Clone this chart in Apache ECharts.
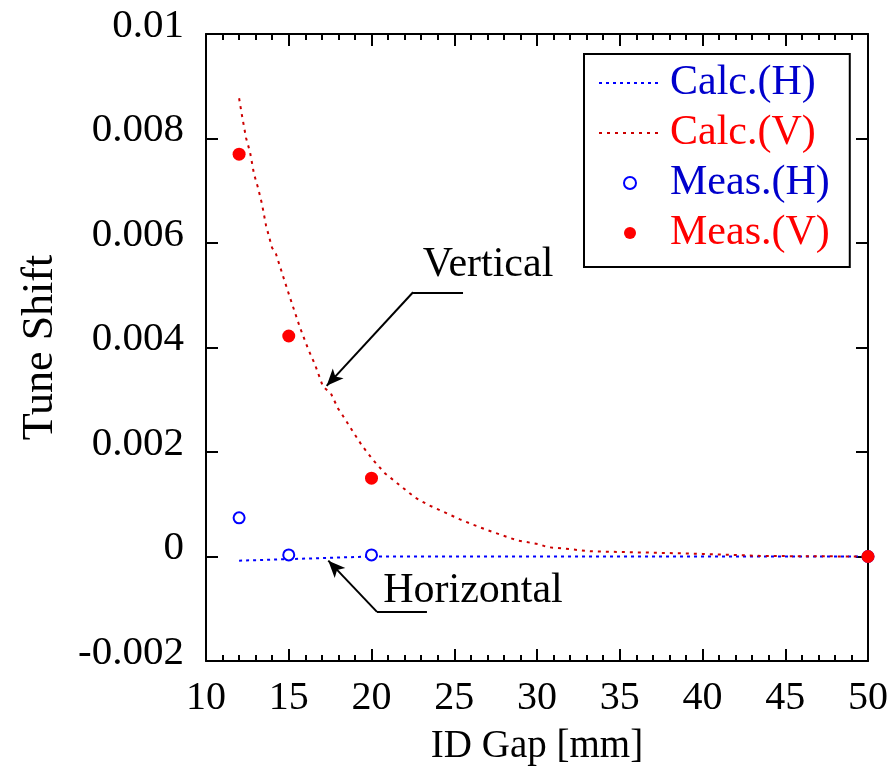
<!DOCTYPE html>
<html>
<head>
<meta charset="utf-8">
<script src="https://cdn.jsdelivr.net/npm/echarts@6/dist/echarts.min.js"></script>
<style>
html,body{margin:0;padding:0;background:#fff;}
#c{width:895px;height:771px;}
</style>
</head>
<body>
<div id="c"></div>
<script>
// ---- data ----
var calcVX = [12.0, 12.18, 12.42, 12.66, 12.9, 13.14, 13.38, 13.63, 13.99, 14.23, 14.65, 15.08, 15.68, 16.16, 16.59, 17.07, 17.55, 17.98, 18.22, 18.88, 19.43, 20.09, 20.82, 21.72, 22.63, 23.41, 24.32, 25.35, 26.13, 27.04, 27.95, 28.79, 30.18, 30.6, 32.0, 33.2, 35.0, 37.85, 40.0, 43.65, 46.0, 50.0];
var calcVY = [0.00877, 0.00843, 0.00801, 0.00774, 0.00732, 0.00706, 0.00675, 0.00633, 0.00591, 0.00579, 0.00537, 0.00495, 0.00438, 0.00398, 0.00367, 0.00325, 0.00312, 0.00283, 0.00272, 0.00239, 0.00212, 0.00185, 0.00159, 0.00136, 0.00113, 0.00099, 0.00086, 0.00071, 0.00061, 0.0005, 0.0004, 0.00031, 0.00023, 0.00018, 0.00014, 0.0001, 0.000086, 0.000067, 0.00005, 0.00001, 0.000005, 0.0];
var calcHX = [12, 13, 14, 15, 16, 17, 18, 19, 20, 25, 30, 35, 40, 45, 50];
var calcHY = [-0.00008, -0.00007, -0.00006, -0.00005, -0.00004, -0.00003, -0.00002, -0.00001, 0, 0, 0, 0, 0, 0, 0];
var measHX = [12, 15, 20, 50];
var measHY = [0.00074, 0.00003, 0.00003, 0.0];
var measVX = [12, 15, 20, 50];
var measVY = [0.0077, 0.00422, 0.0015, 0.0];
var seriesNames = ['Calc.(H)', 'Calc.(V)', 'Meas.(H)', 'Meas.(V)'];
var xMin = 10, xMax = 50, xStep = 5;
var yMin = -0.002, yMax = 0.01, yStep = 0.002;
var xAxisTitle = 'ID Gap [mm]';
var yAxisTitle = 'Tune Shift';
// annotation anchors (data coordinates)
var vertArrow = [[25.53, 0.005057], [22.51, 0.005057], [17.29, 0.003266]];
var horizArrow = [[23.35, -0.00106], [20.33, -0.00106], [17.39, -0.00008]];
var vertText = {text: 'Vertical', at: [27.04, 0.00557]};
var horizText = {text: 'Horizontal', at: [26.13, -0.00066]};

function zip(a, b) { return a.map(function (v, i) { return [v, b[i]]; }); }

var FONT = 'Liberation Serif';
var BLUE = '#0000ff', BLUE_T = '#0000cc', RED = '#ff0000', RED_L = '#cc0000';

var chart = echarts.init(document.getElementById('c'), null, {renderer: 'canvas'});

function arrowLines(pts) {
  return [
    [{coord: pts[0], symbol: 'none'}, {coord: pts[1], symbol: 'none'}],
    [{coord: pts[1], symbol: 'none'}, {coord: pts[2], symbol: 'arrow', symbolSize: [11, 17]}]
  ];
}

var axisLine = {show: true, onZero: false, lineStyle: {color: '#000', width: 2}};

var option = {
  backgroundColor: '#fff',
  animation: false,
  grid: {left: 206, right: 27, top: 34, bottom: 110},
  legend: {
    orient: 'vertical',
    left: 584, top: 54,
    padding: [4, 20, 9, 14],
    borderColor: '#000', borderWidth: 2,
    itemWidth: 62, itemHeight: 12, itemGap: 0,
    selectedMode: false,
    textStyle: {fontFamily: FONT, fontSize: 42, lineHeight: 50, padding: [0, 0, 0, 4]},
    data: [
      {name: seriesNames[0], textStyle: {color: BLUE_T}, itemStyle: {opacity: 0}},
      {name: seriesNames[1], textStyle: {color: RED}, itemStyle: {opacity: 0}},
      {name: seriesNames[2], textStyle: {color: BLUE_T}},
      {name: seriesNames[3], textStyle: {color: RED}}
    ]
  },
  xAxis: [{
    type: 'value', min: xMin, max: xMax, interval: xStep,
    name: xAxisTitle, nameLocation: 'middle', nameGap: 66,
    nameTextStyle: {fontFamily: FONT, fontSize: 39, color: '#000'},
    axisLine: axisLine,
    axisTick: {show: true, inside: true, length: 12, lineStyle: {color: '#000', width: 2}},
    minorTick: {show: true, splitNumber: 5, length: 6, lineStyle: {color: '#000', width: 2}},
    axisLabel: {fontFamily: FONT, fontSize: 40, color: '#000', margin: 17},
    splitLine: {show: false}
  }, {
    type: 'value', position: 'top', min: xMin, max: xMax, interval: xStep,
    axisLine: axisLine,
    axisTick: {show: true, inside: true, length: 12, lineStyle: {color: '#000', width: 2}},
    minorTick: {show: true, splitNumber: 5, length: 6, lineStyle: {color: '#000', width: 2}},
    axisLabel: {show: false},
    splitLine: {show: false}
  }],
  yAxis: [{
    type: 'value', min: yMin, max: yMax, interval: yStep,
    name: yAxisTitle, nameLocation: 'middle', nameGap: 144, nameRotate: 90,
    nameTextStyle: {fontFamily: FONT, fontSize: 44, color: '#000'},
    axisLine: axisLine,
    axisTick: {show: true, inside: true, length: 12, lineStyle: {color: '#000', width: 2}},
    axisLabel: {fontFamily: FONT, fontSize: 41, color: '#000', margin: 22,
      verticalAlign: 'bottom', lineHeight: 16,
      formatter: function (v) { return String(+v.toFixed(4)); }},
    splitLine: {show: false}
  }, {
    type: 'value', position: 'right', min: yMin, max: yMax, interval: yStep,
    axisLine: axisLine,
    axisTick: {show: true, inside: true, length: 12, lineStyle: {color: '#000', width: 2}},
    axisLabel: {show: false},
    splitLine: {show: false}
  }],
  series: [
    {
      name: seriesNames[0], type: 'line', data: zip(calcHX, calcHY),
      symbol: 'none', smooth: false, z: 3,
      itemStyle: {color: BLUE},
      lineStyle: {color: BLUE, width: 2, type: [3, 4]},
      markLine: {
        silent: true, animation: false,
        lineStyle: {color: '#000', width: 2, type: 'solid'},
        label: {show: false},
        data: arrowLines(horizArrow)
      }
    },
    {
      name: seriesNames[1], type: 'line', data: zip(calcVX, calcVY),
      symbol: 'none', smooth: false, z: 3,
      itemStyle: {color: RED_L},
      lineStyle: {color: RED_L, width: 2, type: [3, 5]},
      markLine: {
        silent: true, animation: false,
        lineStyle: {color: '#000', width: 2, type: 'solid'},
        label: {show: false},
        data: arrowLines(vertArrow)
      }
    },
    {
      name: seriesNames[2], type: 'scatter', data: zip(measHX, measHY),
      symbol: 'circle', symbolSize: 11, z: 4,
      itemStyle: {color: '#fff', borderColor: BLUE, borderWidth: 2, opacity: 1}
    },
    {
      name: seriesNames[3], type: 'scatter', data: zip(measVX, measVY),
      symbol: 'circle', symbolSize: 13, z: 5,
      itemStyle: {color: RED, opacity: 1}
    }
  ]
};
chart.setOption(option);

function placeTexts() {
  var items = [vertText, horizText].map(function (t) {
    var p = chart.convertToPixel({gridIndex: 0}, t.at);
    return {
      type: 'text', x: p[0], y: p[1], z: 10,
      style: {text: t.text, fontFamily: FONT, fontSize: 42, fill: '#000',
        align: 'center', verticalAlign: 'middle'}
    };
  });
  chart.setOption({graphic: items});
}
placeTexts();
</script>
</body>
</html>
